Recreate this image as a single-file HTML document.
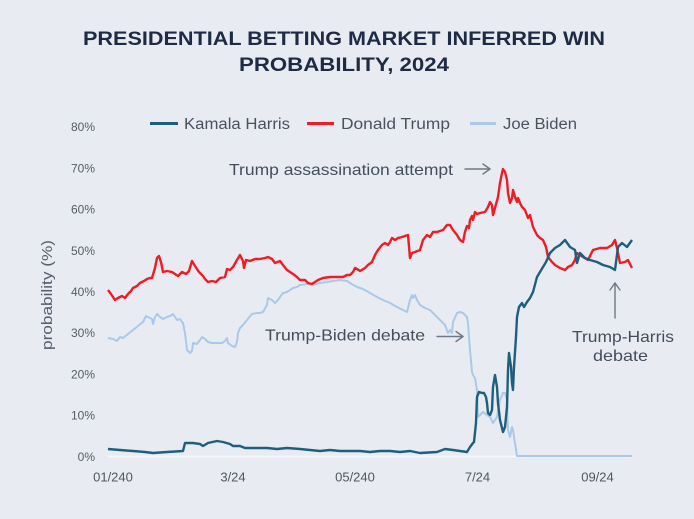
<!DOCTYPE html>
<html>
<head>
<meta charset="utf-8">
<style>
html,body{margin:0;padding:0;background:#e8ecf2;}
svg{display:block;}
text{font-family:"Liberation Sans",sans-serif;}
</style>
</head>
<body>
<svg width="694" height="519" viewBox="0 0 694 519" xmlns="http://www.w3.org/2000/svg">
<rect x="0" y="0" width="694" height="519" fill="#e8ecf2"/>

<!-- Title -->
<text x="83" y="45" font-size="19.5" font-weight="bold" fill="#1f2b45" textLength="522" lengthAdjust="spacingAndGlyphs">PRESIDENTIAL BETTING MARKET INFERRED WIN</text>
<text x="239" y="71" font-size="19.5" font-weight="bold" fill="#1f2b45" textLength="210" lengthAdjust="spacingAndGlyphs">PROBABILITY, 2024</text>

<!-- Legend -->
<line x1="150" y1="123.5" x2="178" y2="123.5" stroke="#1e5f7d" stroke-width="3"/>
<text x="184" y="129" font-size="15.5" fill="#4a5260" textLength="106" lengthAdjust="spacingAndGlyphs">Kamala Harris</text>
<line x1="307" y1="123.5" x2="334" y2="123.5" stroke="#ee1c24" stroke-width="3"/>
<text x="341" y="129" font-size="15.5" fill="#4a5260" textLength="109" lengthAdjust="spacingAndGlyphs">Donald Trump</text>
<line x1="470" y1="123.5" x2="496" y2="123.5" stroke="#aac9ea" stroke-width="3"/>
<text x="503" y="129" font-size="15.5" fill="#4a5260" textLength="74" lengthAdjust="spacingAndGlyphs">Joe Biden</text>

<!-- Y ticks -->
<g font-size="12" fill="#555c66" text-anchor="end">
<text x="95" y="131.2">80%</text>
<text x="95" y="172.4">70%</text>
<text x="95" y="213.6">60%</text>
<text x="95" y="254.8">50%</text>
<text x="95" y="296">40%</text>
<text x="95" y="337.2">30%</text>
<text x="95" y="378.4">20%</text>
<text x="95" y="419.6">10%</text>
<text x="95" y="460.8">0%</text>
</g>

<!-- Y axis title -->
<text transform="translate(52,295) rotate(-90)" text-anchor="middle" font-size="15" fill="#555e6b" textLength="110" lengthAdjust="spacingAndGlyphs">probability (%)</text>

<!-- X ticks -->
<g font-size="13" fill="#4f5661" text-anchor="middle">
<text x="113" y="481.5">01/240</text>
<text x="233" y="481.5">3/24</text>
<text x="355" y="481.5">05/240</text>
<text x="477.5" y="481.5">7/24</text>
<text x="597.5" y="481.5">09/24</text>
</g>

<!-- baseline -->
<line x1="108" y1="456.5" x2="632" y2="456.5" stroke="#f6f8fb" stroke-width="1.5"/>

<!-- Biden -->
<polyline fill="none" stroke="#aac9ea" stroke-width="2" stroke-linejoin="round" points="108,338 113,339 117,341 120,337 123,338 128,334 133,330 138,326 143,322 146,316 148,317 152,319 153,324 155,317 157,314 160,317 163,319 167,317 170,316 173,314 175,317 177,320 180,319 182,322 183,323 185,333 187,350 190,353 192,351 193,343 197,344 200,340 202,337 205,339 208,342 212,343 215,343 218,343 222,343 225,341 227,338 228,343 232,346 235,347 237,342 238,333 240,328 243,325 247,320 252,314 257,313 260,313 263,312 267,305 268,298 272,300 275,303 278,300 280,297 283,293 287,292 290,290 293,288 297,287 300,285 307,284 313,285 320,283 327,282 333,281 340,280 347,281 350,283 357,287 363,289 370,293 377,297 383,300 390,303 397,307 403,310 407,312 410,300 412,295 413,298 415,295 417,300 420,305 425,308 430,310 435,315 440,320 445,325 448,333 450,330 452,333 453,322 457,313 460,312 463,313 467,317 468,323 470,350 472,372 473,375 475,378 477,390 478,417 480,415 483,412 487,415 490,417 493,423 497,417 500,400 503,393 505,393 507,400 508,430 510,437 512,427 513,430 515,443 517,456 632,456"/>

<!-- Trump -->
<polyline fill="none" stroke="#ee1c24" stroke-width="2.4" stroke-linejoin="round" points="108,290 111,294 115,300 118,298 122,296 125,298 128,294 131,291 133,288 137,286 140,283 144,281 147,279 150,278 152,278 155,268 157,258 159,256 161,262 163,272 167,271 172,272 175,274 178,276 182,272 186,274 189,271 192,261 195,266 199,272 203,276 205,279 208,282 212,281 216,282 220,278 225,277 227,269 230,270 233,267 237,260 240,255 243,261 244,268 246,260 250,261 255,259 260,259 265,258 268,257 272,259 275,263 280,261 283,265 287,270 290,272 293,274 297,277 300,280 305,280 308,283 312,284 315,282 318,280 323,278 330,277 337,277 343,277 347,275 350,275 352,273 353,272 355,268 357,269 360,271 365,268 368,265 372,262 375,255 378,250 382,245 385,243 388,245 390,242 392,238 395,240 398,238 402,237 405,236 408,235 410,258 412,253 415,252 420,250 423,240 427,235 430,237 433,232 437,232 440,231 443,230 447,225 450,225 453,230 457,235 460,240 463,242 465,232 467,226 469,228 470,220 472,216 473,220 475,212 477,214 480,213 485,212 488,207 490,202 492,205 493,215 495,208 498,197 500,183 502,173 503,169 505,172 507,180 508,193 510,203 512,198 513,190 515,197 517,202 518,198 520,203 522,207 525,210 528,218 530,215 533,227 537,235 540,238 543,240 546,247 548,257 552,262 555,265 560,268 565,270 568,267 572,265 575,260 577,253 580,255 583,257 588,260 593,250 600,248 607,248 612,245 615,240 617,248 620,263 625,262 628,260 632,268"/>

<!-- Harris -->
<polyline fill="none" stroke="#1e5f7d" stroke-width="2.4" stroke-linejoin="round" points="108,449 120,450 133,451 145,452 153,453 167,452 183,451 185,443 190,443 193,443 200,444 203,446 208,443 217,441 223,442 230,444 233,446 240,446 245,448 253,448 267,448 277,449 287,448 300,449 310,450 320,451 330,450 340,451 350,451 360,451 370,452 380,451 390,451 400,452 410,451 420,453 437,452 445,449 453,450 467,452 470,447 473,443 474,442 476,423 477,397 479,392 482,393 484,393 486,397 487,403 488,413 490,415 492,410 493,387 495,375 497,387 498,403 500,420 502,428 503,432 505,427 507,407 508,370 509,353 511,367 512,383 513,390 514,367 516,337 517,317 519,307 522,303 524,307 527,302 530,298 533,292 537,277 540,272 543,267 546,262 550,253 555,248 560,245 565,240 570,247 575,250 577,263 580,253 585,258 590,260 597,262 603,265 610,267 615,270 618,247 622,243 627,247 632,240"/>

<!-- Annotations -->
<g font-size="16" fill="#444d5c">
<text x="229" y="175" textLength="224" lengthAdjust="spacingAndGlyphs">Trump assassination attempt</text>
<text x="265" y="340.7" textLength="160" lengthAdjust="spacingAndGlyphs">Trump-Biden debate</text>
<text x="572" y="342" textLength="102" lengthAdjust="spacingAndGlyphs">Trump-Harris</text>
<text x="593" y="361" textLength="55" lengthAdjust="spacingAndGlyphs">debate</text>
</g>

<g stroke="#6f7886" stroke-width="1.4" fill="none" stroke-linecap="round" stroke-linejoin="round">
<line x1="465" y1="169" x2="490" y2="169"/>
<polyline points="483,164 490,169 483,174"/>
<line x1="437" y1="336.5" x2="463" y2="336.5"/>
<polyline points="456,331.5 463,336.5 456,341.5"/>
<line x1="615" y1="318" x2="615" y2="283"/>
<polyline points="610,290 615,283 620,290"/>
</g>
</svg>
</body>
</html>
